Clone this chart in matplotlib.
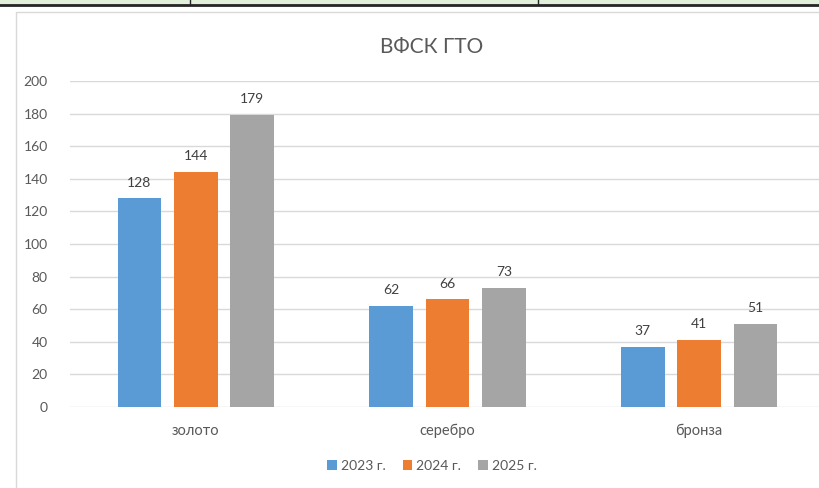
import matplotlib
matplotlib.use("Agg")
import matplotlib.pyplot as plt
import numpy as np

plt.rcParams['font.family'] = ['Lato', 'DejaVu Sans']

categories = ["золото", "серебро", "бронза"]
years = ["2023 г.", "2024 г.", "2025 г."]
v2023 = [128, 62, 37]
v2024 = [144, 66, 41]
v2025 = [179, 73, 51]
colors = ["#5B9BD5", "#ED7D31", "#A5A5A5"]

fig = plt.figure(figsize=(8.2, 4.88), dpi=100)

# screenshot strip on top + chart frame
fig.patches.append(plt.Rectangle((0, 1 - 4 / 488), 1, 4 / 488, transform=fig.transFigure,
                                 color="#E2EFDA", zorder=0))
fig.lines.append(plt.Line2D([0, 1], [1 - 5 / 488, 1 - 5 / 488], transform=fig.transFigure,
                            color="#262626", lw=2))
for xv in [190, 538]:
    fig.lines.append(plt.Line2D([xv / 820, xv / 820], [1 - 4 / 488, 1], transform=fig.transFigure,
                                color="#262626", lw=1))
fig.lines.append(plt.Line2D([16 / 820, 16 / 820, 1], [0, 1 - 12 / 488, 1 - 12 / 488],
                            transform=fig.transFigure, color="#D9D9D9", lw=1))

ax = fig.add_axes([70 / 820, 81 / 488, 755 / 820, 326 / 488])
x = np.arange(len(categories))
off = 0.224
w = 0.174
for i, (vals, lab) in enumerate(zip([v2023, v2024, v2025], years)):
    bars = ax.bar(x + (i - 1) * off, vals, w, color=colors[i], label=lab, zorder=3)
    for b, v in zip(bars, vals):
        ax.text(b.get_x() + b.get_width() / 2, v + 6, str(v), ha="center", va="bottom",
                fontsize=10, color="#404040")

ax.set_xlim(-0.5, 2.5)
ax.set_ylim(0, 200)
ax.set_yticks(range(0, 201, 20))
ax.grid(axis="y", color="#D9D9D9", lw=1, zorder=0)
for s in ax.spines.values():
    s.set_visible(False)
ax.tick_params(length=0, colors="#595959", labelsize=10)
ax.tick_params(axis="y", pad=16)
ax.tick_params(axis="x", pad=12, labelsize=10.5)
ax.set_xticks(x)
ax.set_xticklabels(categories)

fig.text(432 / 820, 1 - 47 / 488, "ВФСК ГТО", ha="center", va="center", fontsize=15,
         color="#595959")

fig.legend(loc="center", bbox_to_anchor=(432 / 820, 1 - 466 / 488), ncol=3, frameon=False,
           fontsize=10, handlelength=0.7, handleheight=0.7, handletextpad=0.3,
           columnspacing=1.2, labelcolor="#595959")

fig.savefig("out.png", dpi=100)
